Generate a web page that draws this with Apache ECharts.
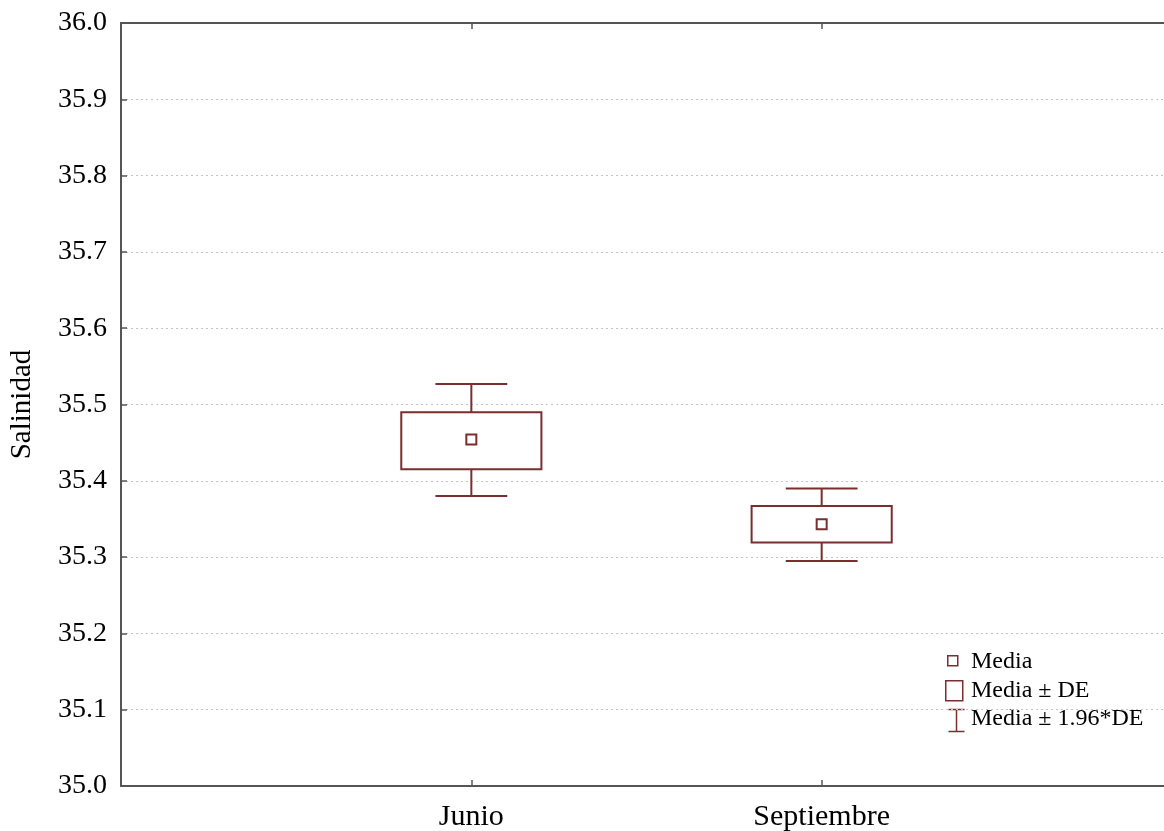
<!DOCTYPE html>
<html>
<head>
<meta charset="utf-8">
<script src="https://cdn.jsdelivr.net/npm/echarts@6/dist/echarts.min.js"></script>
<style>html,body{margin:0;padding:0;background:#fff;}#c{width:1164px;height:831px;}</style>
</head>
<body>
<div id="c"></div>
<script>
const categories = ['Junio', 'Septiembre'];
const catPos = [1, 2];
const means = [35.454, 35.343];
const boxLow = [35.415, 35.319];
const boxHigh = [35.490, 35.367];
const whiskerLow = [35.380, 35.295];
const whiskerHigh = [35.527, 35.390];
const yTicks = [35.0, 35.1, 35.2, 35.3, 35.4, 35.5, 35.6, 35.7, 35.8, 35.9, 36.0];

const COLOR = '#7a2e2e';
const FONT = 'Liberation Serif';

const data = categories.map((c, i) => [catPos[i], means[i], boxLow[i], boxHigh[i], whiskerLow[i], whiskerHigh[i]]);

function renderItem(params, api) {
  const x = api.value(0);
  const pMean = api.coord([x, api.value(1)]);
  const pBL = api.coord([x, api.value(2)]);
  const pBH = api.coord([x, api.value(3)]);
  const pWL = api.coord([x, api.value(4)]);
  const pWH = api.coord([x, api.value(5)]);
  const slot = api.size([1, 0])[0];
  const bw = slot * 0.40;
  const cw = slot * 0.205;
  const cx = pMean[0];
  const st = { stroke: COLOR, lineWidth: 2, fill: null };
  return {
    type: 'group',
    children: [
      { type: 'line', shape: { x1: cx, y1: pWH[1], x2: cx, y2: pBH[1] }, style: st },
      { type: 'line', shape: { x1: cx, y1: pBL[1], x2: cx, y2: pWL[1] }, style: st },
      { type: 'line', shape: { x1: cx - cw / 2, y1: pWH[1], x2: cx + cw / 2, y2: pWH[1] }, style: st },
      { type: 'line', shape: { x1: cx - cw / 2, y1: pWL[1], x2: cx + cw / 2, y2: pWL[1] }, style: st },
      { type: 'rect', shape: { x: cx - bw / 2, y: pBH[1], width: bw, height: pBL[1] - pBH[1] }, style: { stroke: COLOR, lineWidth: 2, fill: '#fff' } },
      { type: 'rect', shape: { x: cx - 5, y: pMean[1] - 5, width: 10, height: 10 }, style: { stroke: COLOR, lineWidth: 2, fill: '#fff' } }
    ]
  };
}

const chart = echarts.init(document.getElementById('c'));
const axisLineStyle = { color: '#555', width: 2 };
const tickStyle = { color: '#555', width: 1.5 };
chart.setOption({
  animation: false,
  backgroundColor: '#fff',
  grid: { left: 121, right: -8, top: 23, bottom: 45, outerBoundsMode: 'none', containLabel: false },
  xAxis: [{
    type: 'value', min: 0, max: 3, interval: 1,
    axisLine: { show: true, lineStyle: axisLineStyle },
    axisTick: { show: true, inside: true, length: 6, lineStyle: tickStyle, customValues: catPos },
    splitLine: { show: false },
    axisLabel: {
      fontFamily: FONT, fontSize: 30, color: '#000', margin: 16,
      customValues: catPos,
      formatter: v => { const i = catPos.indexOf(v); return i >= 0 ? categories[i] : ''; }
    }
  }, {
    type: 'value', position: 'top', min: 0, max: 3, interval: 1,
    axisLine: { show: true, onZero: false, lineStyle: axisLineStyle },
    axisTick: { show: true, inside: true, length: 6, lineStyle: tickStyle, customValues: catPos },
    splitLine: { show: false },
    axisLabel: { show: false }
  }],
  yAxis: {
    type: 'value', min: 35.0, max: 36.0, interval: 0.1,
    name: 'Salinidad', nameLocation: 'middle', nameGap: 84,
    nameTextStyle: { fontFamily: FONT, fontSize: 29, color: '#000' },
    axisLine: { show: true, lineStyle: axisLineStyle },
    axisTick: { show: true, inside: true, length: 6, lineStyle: tickStyle },
    splitLine: { show: true, lineStyle: { color: '#c4c4c4', type: [2, 3], width: 1 } },
    axisLabel: {
      fontFamily: FONT, fontSize: 28, color: '#000', margin: 14,
      formatter: v => { const t = yTicks.find(t => Math.abs(t - v) < 1e-6); return t !== undefined ? t.toFixed(1) : ''; }
    }
  },
  series: [{
    type: 'custom',
    renderItem: renderItem,
    data: data,
    encode: { x: 0, y: [1, 2, 3, 4, 5] },
    z: 5
  }],
  graphic: [
    { type: 'rect', left: 947, top: 655, shape: { width: 10, height: 10 }, style: { stroke: COLOR, lineWidth: 1.5, fill: '#fff' } },
    { type: 'text', left: 971, top: 650, style: { text: 'Media', font: '24px "Liberation Serif"', fill: '#000' } },
    { type: 'rect', left: 945, top: 680, shape: { width: 17, height: 20 }, style: { stroke: COLOR, lineWidth: 1.5, fill: '#fff' } },
    { type: 'text', left: 971, top: 679, style: { text: 'Media ± DE', font: '24px "Liberation Serif"', fill: '#000' } },
    { type: 'group', left: 946, top: 707, children: [
      { type: 'line', shape: { x1: 0, y1: 0, x2: 16, y2: 0 }, style: { stroke: COLOR, lineWidth: 1.5 } },
      { type: 'line', shape: { x1: 8, y1: 0, x2: 8, y2: 22 }, style: { stroke: COLOR, lineWidth: 1.5 } },
      { type: 'line', shape: { x1: 0, y1: 22, x2: 16, y2: 22 }, style: { stroke: COLOR, lineWidth: 1.5 } }
    ]},
    { type: 'text', left: 971, top: 707, style: { text: 'Media ± 1.96*DE', font: '24px "Liberation Serif"', fill: '#000' } }
  ]
});
</script>
</body>
</html>
